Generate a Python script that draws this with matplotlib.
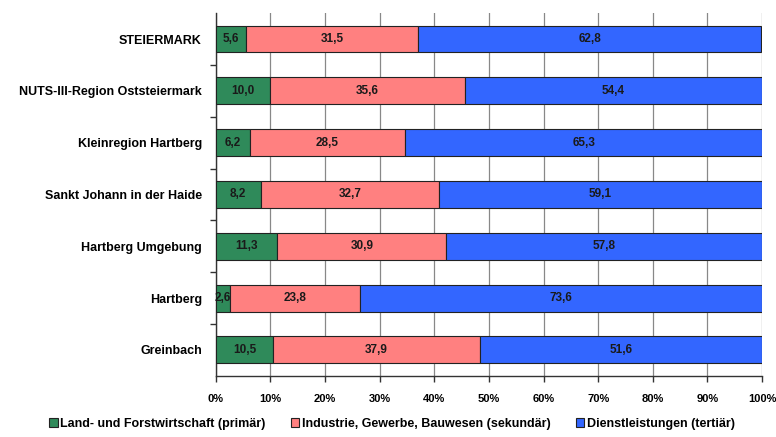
"""Erwerbstätige nach Wirtschaftssektoren - gestapelte Balken"""
import matplotlib
matplotlib.use("Agg")
import matplotlib.pyplot as plt
from matplotlib.ticker import MultipleLocator, FuncFormatter

plt.rcParams['font.family'] = ['Liberation Sans', 'DejaVu Sans']
plt.rcParams['font.weight'] = 'bold'

regionen = ["STEIERMARK", "NUTS-III-Region Oststeiermark", "Kleinregion Hartberg",
            "Sankt Johann in der Haide", "Hartberg Umgebung", "Hartberg", "Greinbach"]
primaer = [5.6, 10.0, 6.2, 8.2, 11.3, 2.6, 10.5]
sekundaer = [31.5, 35.6, 28.5, 32.7, 30.9, 23.8, 37.9]
tertiaer = [62.8, 54.4, 65.3, 59.1, 57.8, 73.6, 51.6]
sektoren = ["Land- und Forstwirtschaft (primär)",
            "Industrie, Gewerbe, Bauwesen (sekundär)",
            "Dienstleistungen (tertiär)"]
farben = ["#2f8a5a", "#ff8080", "#3366ff"]

fig = plt.figure(figsize=(7.76, 4.37), dpi=100)
ax = fig.add_axes([0.278, 0.140, 0.704, 0.830])

pos = list(range(len(regionen)))
links = [0.0] * len(regionen)
for werte, farbe, name in zip([primaer, sekundaer, tertiaer], farben, sektoren):
    bars = ax.barh(pos, werte, left=links, height=0.52, color=farbe,
                   edgecolor="#222222", linewidth=0.8, label=name, zorder=3)
    for b, w in zip(bars, werte):
        ax.text(b.get_x() + b.get_width() / 2, b.get_y() + b.get_height() / 2,
                f"{w:.1f}".replace(".", ","), ha="center", va="center",
                fontsize=8.5, fontweight="bold", color="#1a1a1a", zorder=4)
    links = [l + w for l, w in zip(links, werte)]

ax.set_xlim(0, 100)
ax.set_ylim(len(regionen) - 0.5, -0.5)
ax.xaxis.set_major_locator(MultipleLocator(10))
ax.xaxis.set_major_formatter(FuncFormatter(lambda v, p: f"{v:.0f}%"))
ax.grid(axis="x", color="#888888", linewidth=0.9, zorder=0)

# Kategorien-Beschriftung ohne Tickstriche, Striche an den Grenzen
ax.set_yticks(pos)
ax.set_yticklabels(regionen, fontsize=9, fontweight="bold")
ax.tick_params(axis="y", length=0, pad=10)
ax.set_yticks([p + 0.5 for p in pos[:-1]], minor=True)
ax.tick_params(axis="y", which="minor", length=4, width=1, color="#333333")
ax.tick_params(axis="x", length=4, width=1, color="#333333", labelsize=8, pad=9)
for t in ax.get_xticklabels():
    t.set_fontweight("bold")

for s in ["top", "right"]:
    ax.spines[s].set_visible(False)
for s in ["left", "bottom"]:
    ax.spines[s].set_color("#333333")
    ax.spines[s].set_linewidth(1)

fig.legend(loc="lower center", bbox_to_anchor=(0.505, -0.01), ncol=3, frameon=False,
           handlelength=0.7, handleheight=0.7, handletextpad=0.2,
           columnspacing=2.0, prop={"weight": "bold", "size": 9})

fig.savefig("out.png", dpi=100)
